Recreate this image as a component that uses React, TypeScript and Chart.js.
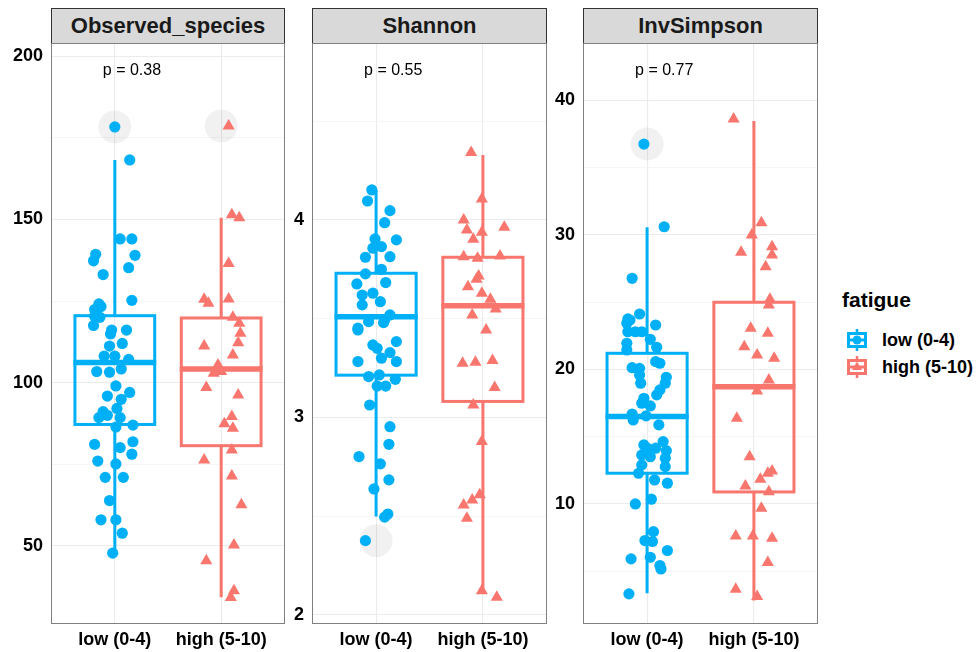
import React, { useEffect, useRef } from 'react';
import { Chart, registerables } from 'chart.js';

Chart.register(...registerables);

// ---------- data ----------
const groups = ['low (0-4)', 'high (5-10)'];
const groupColors = ['#00B0F6', '#F8766D'];
const metricNames = ['Observed_species', 'Shannon', 'InvSimpson'];
const pValueLabels = ['p = 0.38', 'p = 0.55', 'p = 0.77'];
const pValueY = [195.4, 4.754, 42.16];

const yMins = [26.1, 1.954, 1.08];
const yMaxs = [204, 4.896, 44.24];
const majorTicks = [[50, 100, 150, 200], [2, 3, 4], [10, 20, 30, 40]];
const minorTicks = [[75, 125, 175], [2.5, 3.5, 4.5], [5, 15, 25, 35]];

// box stats: [lower whisker, Q1, median, Q3, upper whisker]
const obsLowBox = [48, 87.2, 106.2, 120.5, 168.2];
const obsHighBox = [34.3, 80.7, 104.2, 119.8, 150.5];
const shLowBox = [2.498, 3.214, 3.51, 3.73, 4.152];
const shHighBox = [2.123, 3.081, 3.565, 3.811, 4.329];
const invLowBox = [3.37, 12.28, 16.49, 21.19, 30.55];
const invHighBox = [2.82, 10.89, 18.71, 24.98, 38.44];

const obsLowOutliers = [178.3];
const obsHighOutliers = [178.6];
const shLowOutliers = [2.376];
const shHighOutliers: number[] = [];
const invLowOutliers = [36.73];
const invHighOutliers: number[] = [];

const obsLowValues = [178.3, 168.2, 144.0, 144.0, 139.3, 139.0, 137.3, 135.2, 133.1, 125.2, 124.1, 123.3, 122.4, 120.3, 120.0, 117.5, 116.1, 116.1, 114.9, 111.2, 112.0, 108.1, 108.1, 107.1, 103.4, 103.2, 104.2, 99.0, 97.0, 95.9, 94.9, 92.1, 91.1, 90.0, 89.3, 89.3, 86.4, 87.0, 81.9, 81.1, 80.1, 78.1, 76.0, 75.1, 71.0, 71.0, 63.9, 58.0, 58.0, 53.9, 47.8];
const obsLowJitter = [0.00, 0.14, 0.05, 0.16, -0.18, 0.19, -0.20, 0.13, -0.11, 0.16, -0.15, -0.13, -0.19, -0.19, -0.14, -0.20, -0.03, 0.11, -0.04, -0.05, 0.07, -0.10, 0.00, 0.13, -0.17, -0.05, 0.06, 0.01, 0.14, -0.07, 0.06, 0.02, -0.11, -0.07, -0.15, 0.05, 0.01, 0.17, 0.17, -0.19, 0.05, 0.16, -0.16, 0.01, -0.09, 0.08, -0.05, -0.13, 0.01, 0.07, -0.02];
const obsHighValues = [178.6, 151.4, 150.5, 136.5, 125.5, 124.3, 125.6, 120.0, 118.2, 115.1, 112.2, 111.2, 108.5, 105.4, 102.9, 103.4, 98.5, 96.2, 89.6, 87.4, 86.0, 79.4, 76.3, 71.4, 62.6, 50.3, 45.5, 36.3, 34.2];
const obsHighJitter = [0.07, 0.10, 0.17, 0.07, -0.16, -0.12, 0.07, 0.11, 0.17, 0.18, 0.16, -0.16, 0.11, -0.03, -0.07, 0.00, -0.14, 0.16, 0.10, 0.03, 0.11, 0.10, -0.16, 0.10, 0.19, 0.12, -0.14, 0.12, 0.09];

const shLowValues = [4.152, 4.096, 4.047, 3.986, 3.904, 3.899, 3.857, 3.865, 3.811, 3.814, 3.750, 3.727, 3.683, 3.676, 3.620, 3.629, 3.586, 3.570, 3.519, 3.494, 3.485, 3.452, 3.480, 3.443, 3.367, 3.350, 3.384, 3.328, 3.300, 3.283, 3.283, 3.207, 3.215, 3.193, 3.159, 3.159, 3.063, 2.953, 2.864, 2.802, 2.765, 2.684, 2.638, 2.511, 2.495, 2.376];
const shLowJitter = [-0.04, -0.08, 0.13, 0.08, -0.01, 0.19, -0.03, 0.05, -0.10, 0.13, 0.05, -0.10, 0.09, -0.18, -0.13, -0.03, 0.04, -0.13, 0.13, 0.08, -0.07, -0.17, 0.07, -0.17, -0.03, 0.01, 0.19, 0.13, 0.05, -0.17, 0.19, -0.07, 0.03, 0.18, 0.01, 0.09, -0.06, 0.13, 0.12, -0.16, 0.04, 0.12, -0.02, 0.11, 0.08, -0.10];
const shHighValues = [4.341, 4.106, 4.000, 3.949, 3.963, 3.938, 3.902, 3.814, 3.806, 3.818, 3.716, 3.700, 3.662, 3.629, 3.598, 3.549, 3.519, 3.443, 3.274, 3.279, 3.288, 3.151, 3.063, 2.878, 2.608, 2.582, 2.557, 2.490, 2.123, 2.090];
const shHighJitter = [-0.11, -0.01, -0.18, -0.15, 0.20, -0.01, -0.09, -0.18, -0.05, 0.16, -0.04, -0.06, -0.14, -0.01, 0.07, 0.12, -0.10, 0.03, -0.19, -0.07, 0.09, 0.11, -0.09, -0.01, -0.03, -0.10, -0.18, -0.15, -0.01, 0.13];

const invLowValues = [36.73, 30.59, 26.76, 24.11, 23.74, 23.66, 23.29, 23.42, 22.79, 22.79, 22.79, 22.23, 21.93, 21.44, 21.64, 20.57, 20.45, 20.12, 20.07, 19.41, 18.97, 19.58, 18.97, 18.47, 18.10, 17.85, 17.48, 17.28, 16.68, 16.24, 16.54, 15.87, 14.63, 14.38, 14.14, 14.14, 13.96, 13.64, 13.51, 13.39, 12.90, 12.77, 12.28, 11.78, 11.54, 10.00, 10.35, 7.94, 7.28, 7.21, 6.54, 5.92, 6.04, 5.42, 5.17, 3.32];
const invLowJitter = [-0.03, 0.16, -0.14, -0.07, -0.18, -0.16, 0.08, -0.19, -0.18, -0.11, -0.05, 0.03, -0.19, -0.19, 0.09, 0.08, 0.12, -0.14, -0.07, 0.18, 0.17, -0.07, -0.06, 0.12, 0.09, -0.03, -0.05, 0.03, -0.14, -0.13, -0.01, 0.11, 0.15, -0.03, 0.00, 0.08, 0.18, -0.05, 0.03, 0.17, -0.05, 0.17, -0.08, 0.07, 0.19, -0.11, 0.04, 0.06, -0.02, 0.05, 0.19, -0.15, 0.03, 0.12, 0.13, -0.17];
const invHighValues = [38.59, 30.89, 29.98, 28.69, 29.11, 28.49, 27.62, 25.20, 24.78, 23.05, 22.67, 21.68, 21.06, 20.82, 19.21, 18.39, 16.36, 13.51, 12.45, 12.28, 11.83, 11.34, 10.91, 9.68, 7.62, 7.62, 7.45, 5.64, 3.66, 3.12];
const invHighJitter = [-0.19, 0.07, -0.02, -0.12, 0.17, 0.17, 0.11, 0.15, 0.14, -0.03, 0.13, -0.09, 0.03, 0.19, 0.14, 0.03, -0.16, -0.04, 0.17, 0.13, 0.06, -0.08, 0.14, 0.07, -0.17, -0.01, 0.17, 0.13, -0.17, 0.03];

const panelValues = [[obsLowValues, obsHighValues], [shLowValues, shHighValues], [invLowValues, invHighValues]];
const panelJitter = [[obsLowJitter, obsHighJitter], [shLowJitter, shHighJitter], [invLowJitter, invHighJitter]];
const panelBoxes = [[obsLowBox, obsHighBox], [shLowBox, shHighBox], [invLowBox, invHighBox]];
const panelOutliers = [[obsLowOutliers, obsHighOutliers], [shLowOutliers, shHighOutliers], [invLowOutliers, invHighOutliers]];

// ---------- layout ----------
const FONT = '"Liberation Sans", Arial, Helvetica, sans-serif';
const plotLeft = [51, 312, 583];
const plotRight = [285, 547, 818];
const plotTop = 43;
const plotBottom = 624;
const padTop = 20;
const padRight = 10;
const yAxisW = 50;
const xAxisH = 30;
const boxHalf = 0.375;

function Panel({ idx }: { idx: number }) {
  const ref = useRef<HTMLCanvasElement>(null);
  const w = plotRight[idx] - plotLeft[idx] + yAxisW + padRight;
  const h = plotBottom - plotTop + padTop + xAxisH;

  useEffect(() => {
    const majors = majorTicks[idx];
    const allTicks = [...majorTicks[idx], ...minorTicks[idx]].sort((a, b) => a - b);
    const isMajor = (v: number) => majors.some((m) => Math.abs(m - v) < 1e-9);

    const datasets: any[] = [];
    groups.forEach((_, g) => {
      datasets.push({
        label: groups[g],
        data: panelValues[idx][g].map((v, i) => ({ x: g + 1 + panelJitter[idx][g][i], y: v })),
        pointStyle: g === 0 ? 'circle' : 'triangle',
        pointRadius: g === 0 ? 5.6 : 7,
        pointBackgroundColor: groupColors[g],
        pointBorderWidth: 0,
        pointHoverRadius: g === 0 ? 5.6 : 7,
        order: 1,
      });
    });
    groups.forEach((_, g) => {
      datasets.push({
        label: 'outlier ' + groups[g],
        data: panelOutliers[idx][g].map((v) => ({ x: g + 1, y: v })),
        pointStyle: 'circle',
        pointRadius: 16.5,
        pointBackgroundColor: 'rgba(0,0,0,0.055)',
        pointBorderWidth: 0,
        order: 5,
      });
    });

    const plugin = {
      id: 'boxframe' + idx,
      beforeDatasetsDraw(chart: any) {
        const { ctx } = chart;
        const xs = chart.scales.x;
        const ys = chart.scales.y;
        ctx.save();
        panelBoxes[idx].forEach((b, g) => {
          const [lo, q1, med, q3, hi] = b;
          const xc = xs.getPixelForValue(g + 1);
          const xl = xs.getPixelForValue(g + 1 - boxHalf);
          const xr = xs.getPixelForValue(g + 1 + boxHalf);
          ctx.strokeStyle = groupColors[g];
          ctx.lineCap = 'butt';
          ctx.lineJoin = 'miter';
          ctx.lineWidth = 3;
          ctx.beginPath();
          ctx.moveTo(xc, ys.getPixelForValue(q3));
          ctx.lineTo(xc, ys.getPixelForValue(hi));
          ctx.moveTo(xc, ys.getPixelForValue(q1));
          ctx.lineTo(xc, ys.getPixelForValue(lo));
          ctx.stroke();
          ctx.strokeRect(xl, ys.getPixelForValue(q3), xr - xl, ys.getPixelForValue(q1) - ys.getPixelForValue(q3));
          ctx.lineWidth = 5.5;
          ctx.beginPath();
          ctx.moveTo(xl - 1.5, ys.getPixelForValue(med));
          ctx.lineTo(xr + 1.5, ys.getPixelForValue(med));
          ctx.stroke();
        });
        ctx.restore();
      },
      afterDraw(chart: any) {
        const { ctx, chartArea } = chart;
        const xs = chart.scales.x;
        const ys = chart.scales.y;
        ctx.save();
        ctx.font = '16px ' + FONT;
        ctx.fillStyle = '#000';
        ctx.textAlign = 'left';
        ctx.textBaseline = 'middle';
        ctx.fillText(pValueLabels[idx], xs.getPixelForValue(1) - 12, ys.getPixelForValue(pValueY[idx]));
        ctx.strokeStyle = '#808080';
        ctx.lineWidth = 1;
        ctx.strokeRect(chartArea.left + 0.5, chartArea.top + 0.5, chartArea.right - chartArea.left - 1, chartArea.bottom - chartArea.top - 1);
        ctx.restore();
      },
    };

    const chart = new Chart(ref.current as HTMLCanvasElement, {
      type: 'scatter',
      data: { datasets },
      options: {
        responsive: false,
        animation: false,
        events: [],
        layout: { autoPadding: false, padding: { top: padTop, right: padRight, left: 0, bottom: 0 } },
        plugins: { legend: { display: false }, tooltip: { enabled: false } },
        scales: {
          x: {
            type: 'linear',
            min: 0.4,
            max: 2.6,
            afterBuildTicks: (s: any) => {
              s.ticks = groups.map((_, g) => ({ value: g + 1 }));
            },
            afterFit: (s: any) => {
              s.height = xAxisH;
              s.paddingLeft = 0;
              s.paddingRight = 0;
            },
            ticks: {
              autoSkip: false,
              maxRotation: 0,
              padding: 5,
              color: '#000',
              font: { family: FONT, size: 18, weight: 'bold' },
              callback: (v: any) => groups[Math.round(Number(v)) - 1] ?? '',
            },
            grid: { color: '#ebebeb', lineWidth: 1.1, drawTicks: false },
            border: { display: false },
          },
          y: {
            type: 'linear',
            min: yMins[idx],
            max: yMaxs[idx],
            afterBuildTicks: (s: any) => {
              s.ticks = allTicks.map((v) => ({ value: v }));
            },
            afterFit: (s: any) => {
              s.width = yAxisW;
            },
            ticks: {
              autoSkip: false,
              padding: 8,
              color: '#000',
              font: { family: FONT, size: 18, weight: 'bold' },
              callback: (v: any) => (isMajor(Number(v)) ? String(v) : ''),
            },
            grid: {
              drawTicks: false,
              color: (c: any) => (c.tick && isMajor(c.tick.value) ? '#ebebeb' : '#f3f3f3'),
              lineWidth: (c: any) => (c.tick && isMajor(c.tick.value) ? 1.1 : 0.8),
            },
            border: { display: false },
          },
        },
      } as any,
      plugins: [plugin],
    });
    return () => chart.destroy();
  }, [idx]);

  return (
    <canvas
      ref={ref}
      width={w}
      height={h}
      style={{ position: 'absolute', left: plotLeft[idx] - yAxisW, top: plotTop - padTop, width: w, height: h }}
    />
  );
}

function LegendGlyph({ g }: { g: number }) {
  const c = groupColors[g];
  return (
    <svg width={24} height={24} style={{ position: 'absolute', left: 0, top: 0 }}>
      <line x1={12} y1={1} x2={12} y2={23} stroke={c} strokeWidth={2.5} />
      <rect x={3.5} y={5.5} width={17} height={13} fill="#fff" stroke={c} strokeWidth={3} />
      <line x1={3} y1={12} x2={21} y2={12} stroke={c} strokeWidth={3} />
      {g === 0 ? (
        <circle cx={12} cy={12} r={4.5} fill={c} />
      ) : (
        <polygon points="12,6.5 17,15 7,15" fill={c} />
      )}
    </svg>
  );
}

export default function App() {
  return (
    <div
      style={{
        position: 'absolute',
        left: 0,
        top: 0,
        width: 977,
        height: 652,
        background: '#fff',
        fontFamily: FONT,
        overflow: 'hidden',
      }}
    >
      {metricNames.map((m, i) => (
        <div
          key={m}
          style={{
            position: 'absolute',
            left: plotLeft[i],
            top: 8,
            width: plotRight[i] - plotLeft[i],
            height: plotTop - 8 + 1,
            boxSizing: 'border-box',
            background: '#d9d9d9',
            border: '1px solid #333',
            display: 'flex',
            alignItems: 'center',
            justifyContent: 'center',
            fontWeight: 'bold',
            fontSize: 22,
            color: '#1a1a1a',
          }}
        >
          {m}
        </div>
      ))}
      {[0, 1, 2].map((i) => (
        <Panel key={i} idx={i} />
      ))}
      <div style={{ position: 'absolute', left: 842, top: 288, fontSize: 21, fontWeight: 'bold', color: '#000' }}>
        fatigue
      </div>
      {groups.map((gname, g) => (
        <div key={gname} style={{ position: 'absolute', left: 845, top: 328 + g * 27, width: 130, height: 24 }}>
          <LegendGlyph g={g} />
          <span
            style={{
              position: 'absolute',
              left: 37,
              top: 1,
              fontSize: 18,
              fontWeight: 'bold',
              lineHeight: '22px',
              color: '#000',
              whiteSpace: 'nowrap',
            }}
          >
            {gname}
          </span>
        </div>
      ))}
    </div>
  );
}
